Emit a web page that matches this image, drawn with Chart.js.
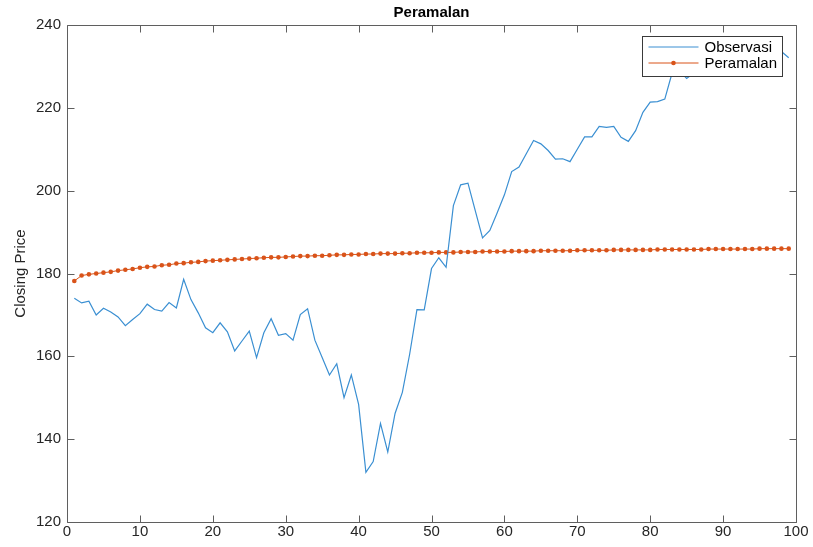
<!DOCTYPE html>
<html>
<head>
<meta charset="utf-8">
<script src="https://cdn.jsdelivr.net/npm/chart.js@4.4.1/dist/chart.umd.min.js"></script>
<style>
  html, body { margin: 0; padding: 0; background: #fff; }
  canvas { display: block; }
</style>
</head>
<body>
<canvas id="c" width="813" height="547"></canvas>
<script>
// Observed closing prices, one per trading step (t = 1..99)
const observasi = [
  174.0, 172.9, 173.3, 170.0, 171.6, 170.7, 169.5, 167.4, 168.9, 170.3,
  172.6, 171.3, 170.9, 173.0, 171.7, 178.6, 173.7, 170.5, 166.9, 165.7,
  168.1, 165.9, 161.3, 163.7, 166.1, 159.7, 165.7, 169.1, 165.1, 165.5,
  163.9, 170.1, 171.5, 163.9, 159.7, 155.5, 158.2, 150.0, 155.5, 148.4,
  132.0, 134.6, 143.8, 136.9, 146.2, 151.3, 160.5, 171.3, 171.2, 181.2,
  183.8, 181.5, 196.4, 201.4, 201.8, 195.2, 188.6, 190.4, 194.6, 199.0,
  204.6, 205.7, 208.9, 212.1, 211.3, 209.7, 207.6, 207.7, 207.0, 210.0,
  213.0, 213.0, 215.5, 215.3, 215.5, 212.9, 211.9, 214.5, 218.9, 221.4,
  221.5, 222.1, 228.4, 229.0, 227.1, 228.4, 229.5, 231.0, 230.2, 232.4,
  233.8, 232.9, 234.6, 235.3, 234.1, 235.8, 234.9, 233.6, 232.1
];

// Forecast values for the same steps
const peramalan = [
  178.2, 179.5, 179.8, 180.0, 180.2, 180.4, 180.7, 180.9, 181.1, 181.4,
  181.6, 181.7, 182.0, 182.1, 182.4, 182.5, 182.7, 182.8, 183.0, 183.1,
  183.2, 183.3, 183.4, 183.5, 183.6, 183.7, 183.8, 183.9, 183.9, 184.0,
  184.1, 184.2, 184.2, 184.3, 184.3, 184.4, 184.5, 184.5, 184.6, 184.6,
  184.7, 184.7, 184.8, 184.8, 184.8, 184.9, 184.9, 185.0, 185.0, 185.0,
  185.1, 185.1, 185.1, 185.2, 185.2, 185.2, 185.3, 185.3, 185.3, 185.3,
  185.4, 185.4, 185.4, 185.4, 185.5, 185.5, 185.5, 185.5, 185.5, 185.6,
  185.6, 185.6, 185.6, 185.6, 185.7, 185.7, 185.7, 185.7, 185.7, 185.7,
  185.8, 185.8, 185.8, 185.8, 185.8, 185.8, 185.8, 185.9, 185.9, 185.9,
  185.9, 185.9, 185.9, 185.9, 186.0, 186.0, 186.0, 186.0, 186.0
];

// Time index and axis ticks
const steps = observasi.map((_, k) => k + 1);
const xTicks = [0, 10, 20, 30, 40, 50, 60, 70, 80, 90, 100];
const yTicks = [120, 140, 160, 180, 200, 220, 240];

const seriesNames = ['Observasi', 'Peramalan'];
const FONT = "'Liberation Sans', Arial, Helvetica, sans-serif";
const AXIS_COLOR = '#5f5f5f';
const TEXT_COLOR = '#262626';

// Box around the axes with inward tick marks on all four sides
const boxTicks = {
  id: 'boxTicks',
  beforeDatasetsDraw(chart) {
    const { ctx, chartArea: a, scales: { x, y } } = chart;
    const len = 7;
    ctx.save();
    ctx.strokeStyle = AXIS_COLOR;
    ctx.lineWidth = 1;
    ctx.beginPath();
    const L = Math.round(a.left) + 0.5, R = Math.round(a.right) + 0.5;
    const T = Math.round(a.top) + 0.5, B = Math.round(a.bottom) + 0.5;
    ctx.rect(L, T, R - L, B - T);
    xTicks.forEach(v => {
      const px = Math.round(x.getPixelForValue(v)) + 0.5;
      ctx.moveTo(px, B); ctx.lineTo(px, B - len);
      ctx.moveTo(px, T); ctx.lineTo(px, T + len);
    });
    yTicks.forEach(v => {
      const py = Math.round(y.getPixelForValue(v)) + 0.5;
      ctx.moveTo(L, py); ctx.lineTo(L + len, py);
      ctx.moveTo(R, py); ctx.lineTo(R - len, py);
    });
    ctx.stroke();
    ctx.restore();
  }
};

// Legend box in the upper-right corner of the plot
const cornerLegend = {
  id: 'cornerLegend',
  afterDatasetsDraw(chart) {
    const { ctx, chartArea: a } = chart;
    const w = 140, h = 40;
    const bx = Math.round(a.right - 14 - w) + 0.5;
    const by = Math.round(a.top + 11) + 0.5;
    ctx.save();
    ctx.fillStyle = '#ffffff';
    ctx.fillRect(bx, by, w, h);
    ctx.strokeStyle = '#3a3a3a';
    ctx.lineWidth = 1;
    ctx.strokeRect(bx, by, w, h);
    ctx.font = '15px ' + FONT;
    ctx.textBaseline = 'middle';
    chart.data.datasets.forEach((ds, i) => {
      const cy = by + 10.5 + i * 16;
      ctx.strokeStyle = ds.borderColor;
      ctx.lineWidth = 1;
      ctx.beginPath();
      ctx.moveTo(bx + 6, cy);
      ctx.lineTo(bx + 56, cy);
      ctx.stroke();
      if (ds.pointRadius > 0) {
        ctx.fillStyle = ds.pointBackgroundColor;
        ctx.beginPath();
        ctx.arc(bx + 31, cy, ds.pointRadius, 0, Math.PI * 2);
        ctx.fill();
      }
      ctx.fillStyle = '#000';
      ctx.fillText(ds.label, bx + 62, cy + 1);
    });
    ctx.restore();
  }
};

new Chart(document.getElementById('c'), {
  type: 'line',
  data: {
    datasets: [
      {
        label: seriesNames[0],
        data: steps.map((t, k) => ({ x: t, y: observasi[k] })),
        borderColor: '#3a8fd2',
        borderWidth: 1.2,
        pointRadius: 0,
        tension: 0
      },
      {
        label: seriesNames[1],
        data: steps.map((t, k) => ({ x: t, y: peramalan[k] })),
        borderColor: '#D95319',
        backgroundColor: '#D95319',
        pointBackgroundColor: '#D95319',
        borderWidth: 1,
        pointRadius: 2.3,
        pointBorderWidth: 0,
        tension: 0
      }
    ]
  },
  options: {
    responsive: false,
    animation: false,
    devicePixelRatio: 1,
    layout: { padding: { left: 8, right: 17, top: 0, bottom: 5 } },
    plugins: {
      legend: { display: false },
      tooltip: { enabled: false },
      title: {
        display: true,
        text: 'Peramalan',
        fullSize: false,
        color: '#000',
        font: { family: FONT, size: 15, weight: 'bold' },
        padding: { top: 4, bottom: 3 }
      }
    },
    scales: {
      x: {
        type: 'linear',
        min: 0,
        max: 100,
        afterBuildTicks: s => { s.ticks = xTicks.map(v => ({ value: v })); },
        grid: { display: false, drawTicks: false },
        border: { display: false },
        ticks: {
          color: TEXT_COLOR,
          font: { family: FONT, size: 15 },
          padding: 1,
          maxRotation: 0,
          autoSkip: false
        }
      },
      y: {
        type: 'linear',
        min: 120,
        max: 240,
        afterBuildTicks: s => { s.ticks = yTicks.map(v => ({ value: v })); },
        grid: { display: false, drawTicks: false },
        border: { display: false },
        title: {
          display: true,
          text: 'Closing Price',
          color: TEXT_COLOR,
          font: { family: FONT, size: 15 },
          padding: { top: 4, bottom: 0 }
        },
        ticks: {
          color: TEXT_COLOR,
          font: { family: FONT, size: 15 },
          padding: 6,
          autoSkip: false
        }
      }
    }
  },
  plugins: [boxTicks, cornerLegend]
});
</script>
</body>
</html>
